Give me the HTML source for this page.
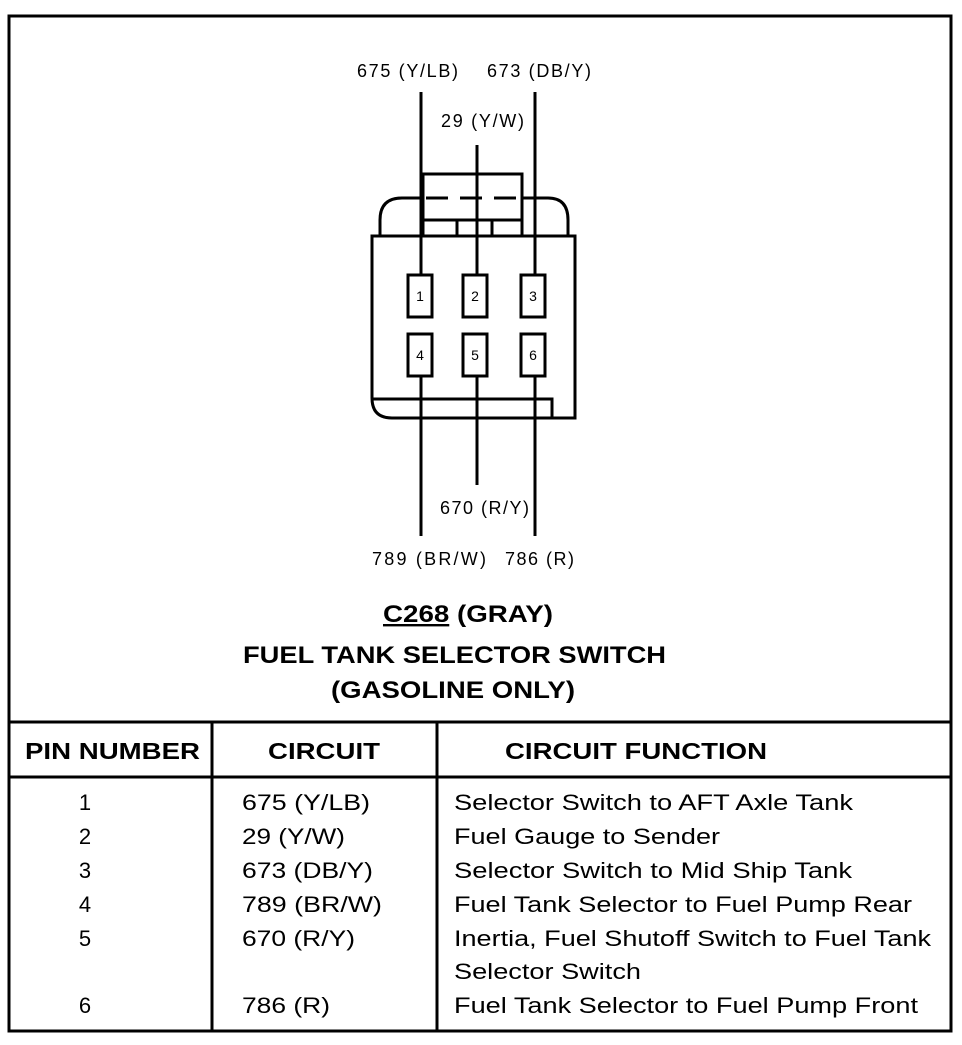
<!DOCTYPE html>
<html><head><style>
body{margin:0;background:#fff;}
svg text{font-family:"Liberation Sans",Arial,sans-serif;fill:#000;}
</style></head><body>
<svg width="962" height="1040" viewBox="0 0 962 1040" xmlns="http://www.w3.org/2000/svg">
<rect x="9" y="16" width="942" height="1015" fill="none" stroke="#000" stroke-width="3"/>
<g stroke="#000" stroke-width="3" fill="none">
<path d="M380 236 V220 Q380 198 402 198 H423"/>
<path d="M522 198 H548 Q568 198 568 220 V236"/>
<path d="M423 236 V174 H522 V236"/>
<line x1="423" y1="220" x2="522" y2="220"/>
<line x1="457" y1="220" x2="457" y2="236"/>
<line x1="492" y1="220" x2="492" y2="236"/>
<path d="M372 236 H575 V418 H392 Q372 418 372 398 Z"/>
<path d="M372 399 H552 V418"/>
<rect x="408" y="275" width="24" height="42"/>
<rect x="463" y="275" width="24" height="42"/>
<rect x="521" y="275" width="24" height="42"/>
<rect x="408" y="334" width="24" height="42"/>
<rect x="463" y="334" width="24" height="42"/>
<rect x="521" y="334" width="24" height="42"/>
<line x1="421" y1="92" x2="421" y2="275"/>
<line x1="477" y1="145" x2="477" y2="275"/>
<line x1="535" y1="92" x2="535" y2="275"/>
<line x1="421" y1="376" x2="421" y2="536"/>
<line x1="477" y1="376" x2="477" y2="485"/>
<line x1="535" y1="376" x2="535" y2="536"/>
</g>
<line x1="426" y1="198" x2="522" y2="198" stroke="#000" stroke-width="3" stroke-dasharray="22,12"/>
<g font-size="14" text-anchor="middle">
<text x="420" y="301">1</text><text x="475" y="301">2</text><text x="533" y="301">3</text>
<text x="420" y="360">4</text><text x="475" y="360">5</text><text x="533" y="360">6</text>
</g>
<g font-size="18" lengthAdjust="spacingAndGlyphs">
<text x="357" y="77" textLength="101">675 (Y/LB)</text>
<text x="487" y="77" textLength="104">673 (DB/Y)</text>
<text x="441" y="127" textLength="83">29 (Y/W)</text>
<text x="440" y="514" textLength="89">670 (R/Y)</text>
<text x="372" y="565" textLength="114">789 (BR/W)</text>
<text x="505" y="565" textLength="69">786 (R)</text>
</g>
<g font-size="24" font-weight="bold">
<text x="383" y="622" textLength="170" lengthAdjust="spacingAndGlyphs"><tspan text-decoration="underline">C268</tspan> (GRAY)</text>
<text x="243" y="663" textLength="423" lengthAdjust="spacingAndGlyphs">FUEL TANK SELECTOR SWITCH</text>
<text x="331" y="698" textLength="244" lengthAdjust="spacingAndGlyphs">(GASOLINE ONLY)</text>
</g>
<g stroke="#000" stroke-width="3">
<line x1="9" y1="722" x2="951" y2="722"/>
<line x1="9" y1="777" x2="951" y2="777"/>
<line x1="212" y1="722" x2="212" y2="1031"/>
<line x1="437" y1="722" x2="437" y2="1031"/>
</g>
<g font-size="23" font-weight="bold">
<text x="25" y="759" textLength="175" lengthAdjust="spacingAndGlyphs">PIN NUMBER</text>
<text x="268" y="759" textLength="112" lengthAdjust="spacingAndGlyphs">CIRCUIT</text>
<text x="505" y="759" textLength="262" lengthAdjust="spacingAndGlyphs">CIRCUIT FUNCTION</text>
</g>
<g font-size="22">
<text x="85" y="810" text-anchor="middle">1</text>
<text x="85" y="844" text-anchor="middle">2</text>
<text x="85" y="878" text-anchor="middle">3</text>
<text x="85" y="912" text-anchor="middle">4</text>
<text x="85" y="946" text-anchor="middle">5</text>
<text x="85" y="1013" text-anchor="middle">6</text>
<text x="242" y="810" textLength="128" lengthAdjust="spacingAndGlyphs">675 (Y/LB)</text>
<text x="242" y="844" textLength="103" lengthAdjust="spacingAndGlyphs">29 (Y/W)</text>
<text x="242" y="878" textLength="131" lengthAdjust="spacingAndGlyphs">673 (DB/Y)</text>
<text x="242" y="912" textLength="140" lengthAdjust="spacingAndGlyphs">789 (BR/W)</text>
<text x="242" y="946" textLength="113" lengthAdjust="spacingAndGlyphs">670 (R/Y)</text>
<text x="242" y="1013" textLength="88" lengthAdjust="spacingAndGlyphs">786 (R)</text>
<text x="454" y="810" textLength="399" lengthAdjust="spacingAndGlyphs">Selector Switch to AFT Axle Tank</text>
<text x="454" y="844" textLength="266" lengthAdjust="spacingAndGlyphs">Fuel Gauge to Sender</text>
<text x="454" y="878" textLength="398" lengthAdjust="spacingAndGlyphs">Selector Switch to Mid Ship Tank</text>
<text x="454" y="912" textLength="458" lengthAdjust="spacingAndGlyphs">Fuel Tank Selector to Fuel Pump Rear</text>
<text x="454" y="946" textLength="477" lengthAdjust="spacingAndGlyphs">Inertia, Fuel Shutoff Switch to Fuel Tank</text>
<text x="454" y="979" textLength="187" lengthAdjust="spacingAndGlyphs">Selector Switch</text>
<text x="454" y="1013" textLength="464" lengthAdjust="spacingAndGlyphs">Fuel Tank Selector to Fuel Pump Front</text>
</g>
</svg>
</body></html>
